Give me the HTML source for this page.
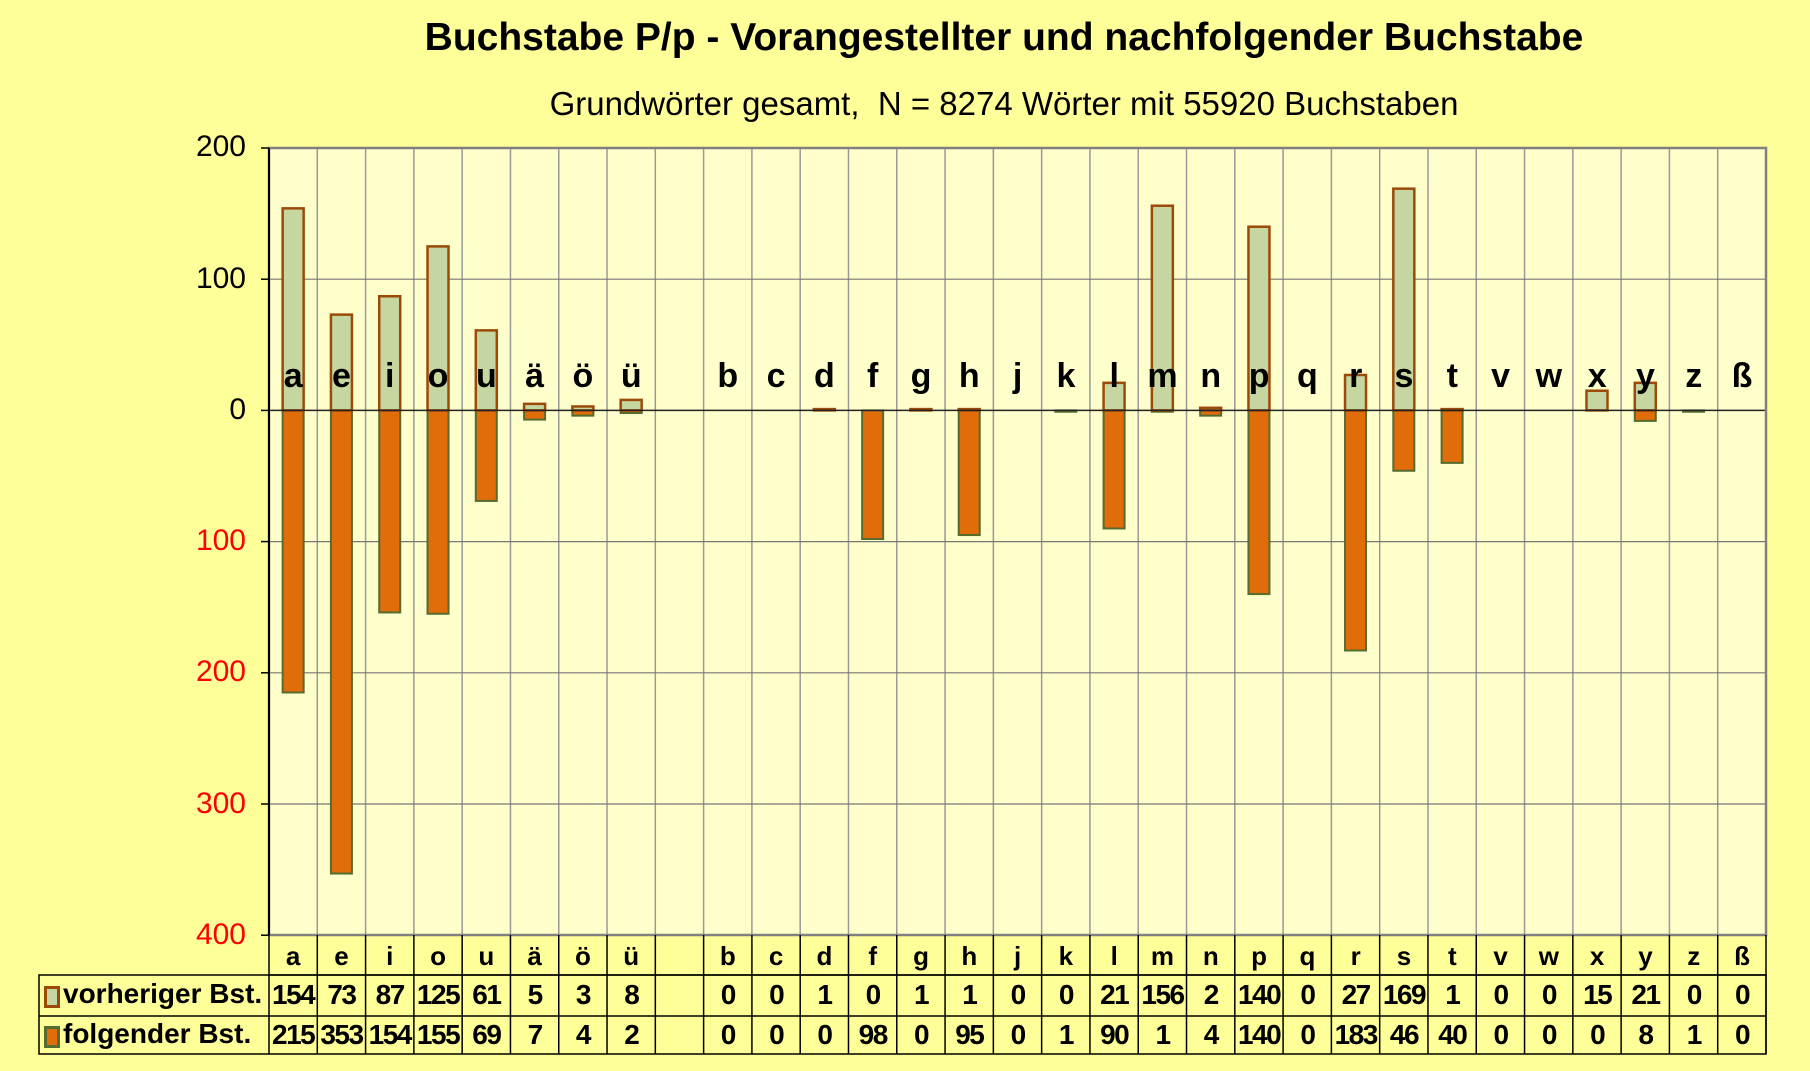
<!DOCTYPE html>
<html><head><meta charset="utf-8">
<style>
body{margin:0;background:#FFFF99;font-family:"Liberation Sans",sans-serif;}
#w{position:relative;width:1810px;height:1071px;overflow:hidden;background:#FFFF99;}
.t{position:absolute;left:0;width:2008px;text-align:center;}
.row{position:absolute;left:269px;width:1497px;display:flex;}
.row div{flex:1;text-align:center;font-weight:bold;color:#000;white-space:nowrap;}
.yl{position:absolute;width:90px;left:156px;text-align:right;font-size:30px;}
</style></head><body><div id="w">
<div class="t" style="top:16px;font-size:39px;font-weight:bold;">Buchstabe P/p - Vorangestellter und nachfolgender Buchstabe</div>
<div class="t" style="top:85px;font-size:33px;">Grundwörter gesamt,&nbsp; N = 8274 Wörter mit 55920 Buchstaben</div>
<svg id="s" width="1810" height="1071" style="position:absolute;left:0;top:0"></svg>
<div class="yl" style="top:130px;color:#000">200</div>
<div class="yl" style="top:262px;color:#000">100</div>
<div class="yl" style="top:393px;color:#000">0</div>
<div class="yl" style="top:524px;color:#f00">100</div>
<div class="yl" style="top:655px;color:#f00">200</div>
<div class="yl" style="top:787px;color:#f00">300</div>
<div class="yl" style="top:918px;color:#f00">400</div>
<div class="row" style="top:357px;font-size:34px;"><div>a</div><div>e</div><div>i</div><div>o</div><div>u</div><div>ä</div><div>ö</div><div>ü</div><div></div><div>b</div><div>c</div><div>d</div><div>f</div><div>g</div><div>h</div><div>j</div><div>k</div><div>l</div><div>m</div><div>n</div><div>p</div><div>q</div><div>r</div><div>s</div><div>t</div><div>v</div><div>w</div><div>x</div><div>y</div><div>z</div><div>ß</div></div>
<div class="row" style="top:941px;font-size:26px;"><div>a</div><div>e</div><div>i</div><div>o</div><div>u</div><div>ä</div><div>ö</div><div>ü</div><div></div><div>b</div><div>c</div><div>d</div><div>f</div><div>g</div><div>h</div><div>j</div><div>k</div><div>l</div><div>m</div><div>n</div><div>p</div><div>q</div><div>r</div><div>s</div><div>t</div><div>v</div><div>w</div><div>x</div><div>y</div><div>z</div><div>ß</div></div>
<div class="row" style="top:979px;font-size:28px;letter-spacing:-1.5px"><div>154</div><div>73</div><div>87</div><div>125</div><div>61</div><div>5</div><div>3</div><div>8</div><div></div><div>0</div><div>0</div><div>1</div><div>0</div><div>1</div><div>1</div><div>0</div><div>0</div><div>21</div><div>156</div><div>2</div><div>140</div><div>0</div><div>27</div><div>169</div><div>1</div><div>0</div><div>0</div><div>15</div><div>21</div><div>0</div><div>0</div></div>
<div class="row" style="top:1019px;font-size:28px;letter-spacing:-1.5px"><div>215</div><div>353</div><div>154</div><div>155</div><div>69</div><div>7</div><div>4</div><div>2</div><div></div><div>0</div><div>0</div><div>0</div><div>98</div><div>0</div><div>95</div><div>0</div><div>1</div><div>90</div><div>1</div><div>4</div><div>140</div><div>0</div><div>183</div><div>46</div><div>40</div><div>0</div><div>0</div><div>0</div><div>8</div><div>1</div><div>0</div></div>
<div style="position:absolute;left:44px;top:986px;width:10px;height:16px;background:#C6D6A0;border:3px solid #9C4A0A"></div>
<div style="position:absolute;left:63px;top:978px;font-size:28px;font-weight:bold">vorheriger Bst.</div>
<div style="position:absolute;left:44px;top:1026px;width:10px;height:16px;background:#E06C0A;border:3px solid #556B2F"></div>
<div style="position:absolute;left:63px;top:1018px;font-size:28px;font-weight:bold">folgender Bst.</div>
</div>
<script>
var v=[154,73,87,125,61,5,3,8,null,0,0,1,0,1,1,0,0,21,156,2,140,0,27,169,1,0,0,15,21,0,0];
var f=[215,353,154,155,69,7,4,2,null,0,0,0,98,0,95,0,1,90,1,4,140,0,183,46,40,0,0,0,8,1,0];
var L=269,R=1766,T=148,B=935,Z=410.4,k=1.312,st=(R-L)/31,h='';
h+='<rect x="'+L+'" y="'+T+'" width="'+(R-L)+'" height="'+(B-T)+'" fill="#FFFFCC"/>';
for(var i=1;i<31;i++){var x=L+i*st;h+='<line x1="'+x+'" x2="'+x+'" y1="'+T+'" y2="'+B+'" stroke="#999" stroke-width="1.5"/>';}
[200,100,-100,-200,-300].forEach(function(g){var y=Z-g*k;h+='<line x1="'+L+'" x2="'+R+'" y1="'+y+'" y2="'+y+'" stroke="#777" stroke-width="1.2"/>';});
for(var i=0;i<31;i++){if(v[i]===null)continue;var c=L+(i+0.5)*st,x=c-10.5;
 if(f[i]>0)h+='<rect x="'+x+'" y="'+Z+'" width="21" height="'+(f[i]*k)+'" fill="#E06C0A" stroke="#556B2F" stroke-width="2"/>';
 if(v[i]>0)h+='<rect x="'+x+'" y="'+(Z-v[i]*k)+'" width="21" height="'+(v[i]*k)+'" fill="#C6D6A0" stroke="#9C4A0A" stroke-width="2.5"/>';}
h+='<line x1="'+L+'" x2="'+R+'" y1="'+Z+'" y2="'+Z+'" stroke="#222" stroke-width="1.5"/>';
h+='<rect x="'+L+'" y="'+T+'" width="'+(R-L)+'" height="'+(B-T)+'" fill="none" stroke="#808080" stroke-width="2.5"/>';
h+='<line x1="'+L+'" x2="'+L+'" y1="'+T+'" y2="'+B+'" stroke="#000" stroke-width="2"/>';
[200,100,0,-100,-200,-300,-400].forEach(function(g){var y=Z-g*k;h+='<line x1="'+(L-8)+'" x2="'+L+'" y1="'+y+'" y2="'+y+'" stroke="#000" stroke-width="1.5"/>';});
h+='<line x1="'+L+'" x2="'+R+'" y1="975" y2="975" stroke="#000" stroke-width="1.5"/>';
h+='<rect x="39" y="975" width="'+(R-39)+'" height="79" fill="none" stroke="#000" stroke-width="1.5"/>';
h+='<line x1="39" x2="'+R+'" y1="1016" y2="1016" stroke="#000" stroke-width="1.5"/>';
h+='<line x1="'+R+'" x2="'+R+'" y1="935" y2="1054" stroke="#000" stroke-width="1.5"/>';
for(var i=0;i<31;i++){var x=L+i*st;h+='<line x1="'+x+'" x2="'+x+'" y1="935" y2="1054" stroke="#000" stroke-width="1.5"/>';}
document.getElementById('s').innerHTML=h;
</script>
</body></html>
